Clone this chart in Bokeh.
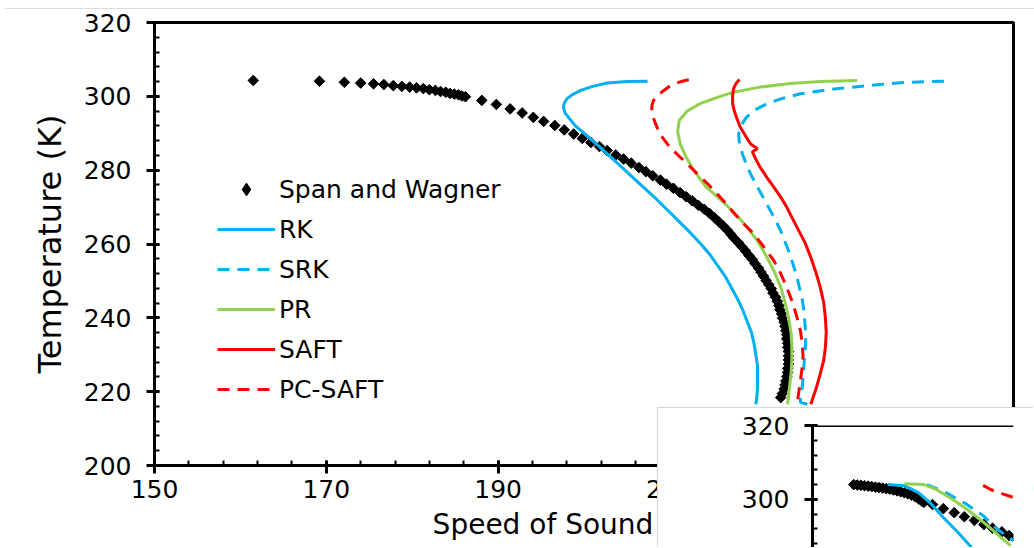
import math
from bokeh.plotting import figure
from bokeh.models import Range1d, FixedTicker, Legend, LegendItem, Span, Div
from bokeh.layouts import column
from bokeh.embed import file_html
from bokeh.resources import INLINE

FONT = "DejaVu Sans"

# ---------------- main chart data (Speed of sound m/s, Temperature K) ----------------
x_ticks = [150, 170, 190, 210, 230, 250]
y_ticks = [200, 220, 240, 260, 280, 300, 320]

sw_T = [304.3, 304.1, 303.8, 303.6, 303.4, 303.2, 302.9, 302.7, 302.5, 302.3, 302.1,
        301.8, 301.6, 301.3, 301.1, 300.8, 300.6, 300.4, 300.1, 299.9,
        298.9, 297.8, 296.6, 295.5, 294.3, 293.2, 292.1,
        290.9, 289.8, 288.6, 287.5, 286.4, 285.3, 284.1, 283.0, 281.9, 280.7,
        279.6, 278.5, 277.3, 276.2, 275.1, 273.9, 272.8, 271.7, 270.5, 269.4,
        268.3, 267.1, 266.0, 264.9, 263.7, 262.6, 261.5, 260.3, 259.2, 258.1,
        256.9, 255.8, 254.7, 253.5, 252.4, 251.3, 250.1, 249.0, 247.9, 246.7,
        245.6, 244.5, 243.3, 242.2, 241.1, 239.9, 238.8, 237.7, 236.5, 235.4,
        234.3, 233.1, 232.0, 230.9, 229.7, 228.6, 227.5, 226.3, 225.2, 224.1,
        222.9, 221.8, 220.7, 219.5, 218.4]
sw_c = [161.5, 169.2, 172.1, 174.0, 175.5, 176.7, 177.8, 178.8, 179.7, 180.5, 181.3,
        182.0, 182.7, 183.3, 183.9, 184.4, 184.9, 185.4, 185.8, 186.2,
        188.1, 189.8, 191.4, 192.8, 194.1, 195.3, 196.6,
        197.7, 198.8, 199.8, 200.8, 201.8, 202.7, 203.7, 204.6, 205.5, 206.4,
        207.2, 208.0, 208.9, 209.6, 210.4, 211.2, 211.9, 212.6, 213.3, 214.0,
        214.6, 215.2, 215.7, 216.2, 216.7, 217.1, 217.5, 218.0, 218.4, 218.8,
        219.2, 219.6, 219.9, 220.3, 220.6, 220.9, 221.2, 221.5, 221.8, 222.0,
        222.3, 222.5, 222.7, 222.8, 223.0, 223.1, 223.3, 223.4, 223.5, 223.6,
        223.6, 223.7, 223.7, 223.8, 223.8, 223.8, 223.8, 223.7, 223.7, 223.6,
        223.5, 223.4, 223.3, 223.1, 222.9]

rk_T = [304.1, 304.0, 303.6, 302.7, 301.6, 300.4, 299.3, 298.1, 297.0, 295.5, 294.0,
        292.0, 290.0, 287.0, 284.0, 281.0, 278.0, 275.0, 272.0, 269.0, 266.0, 263.0,
        260.0, 257.0, 254.0, 251.0, 248.0, 245.0, 242.0, 239.0, 236.0, 233.0, 230.0,
        227.0, 224.0, 221.0, 218.0, 216.6]
rk_c = [207.4, 205.0, 202.7, 201.0, 199.6, 198.6, 198.0, 197.7, 197.6, 197.8, 198.3,
        199.0, 200.0, 201.5, 202.9, 204.3, 205.7, 207.1, 208.5, 209.8, 211.1, 212.4,
        213.6, 214.7, 215.6, 216.5, 217.2, 217.9, 218.5, 219.0, 219.5, 219.8, 220.0,
        220.2, 220.2, 220.2, 220.1, 220.0]

srk_T = [304.1, 303.7, 302.9, 302.0, 300.7, 299.3, 298.0, 296.2, 294.3, 292.1, 289.8,
         287.0, 284.0, 281.0, 278.0, 275.0, 272.0, 269.0, 266.0, 263.0, 260.0, 257.0,
         254.0, 251.0, 248.0, 245.0, 242.0, 239.0, 236.0, 233.0, 230.0, 227.0, 224.0,
         221.0, 218.0, 217.1, 216.6]
srk_c = [241.9, 236.8, 233.0, 229.1, 225.2, 222.9, 221.3, 219.8, 218.9, 218.3, 218.0,
         218.1, 218.5, 219.0, 219.6, 220.3, 221.0, 221.7, 222.4, 223.0, 223.5, 224.0,
         224.4, 224.8, 225.1, 225.4, 225.6, 225.7, 225.8, 225.8, 225.7, 225.6, 225.5,
         225.4, 225.2, 225.2, 226.0]

pr_T = [304.3, 304.0, 303.5, 302.5, 301.2, 299.8, 298.0, 296.0, 293.5, 290.5, 287.1,
        283.5, 279.9, 275.5, 271.8, 268.0, 264.5, 260.5, 256.4, 252.3, 248.3, 244.2,
        240.1, 236.0, 232.0, 228.4, 224.8, 220.7, 216.6]
pr_c = [231.8, 227.5, 224.0, 220.5, 217.5, 215.6, 213.5, 212.0, 211.1, 210.9, 211.2,
        211.9, 212.8, 214.2, 216.0, 217.7, 219.0, 220.3, 221.3, 222.2, 222.9, 223.4,
        223.8, 224.1, 224.2, 224.2, 224.1, 223.9, 223.7]

saft_T = [304.6, 303.5, 302.0, 300.0, 298.0, 296.0, 294.0, 291.6, 289.3, 287.1, 285.8,
          285.0, 283.0, 280.8, 278.0, 275.4, 272.7, 270.0, 267.2, 264.5, 260.5, 256.4,
          252.3, 248.3, 244.2, 240.1, 236.0, 232.0, 228.4, 224.8, 220.7, 216.6]
saft_c = [218.1, 217.7, 217.4, 217.3, 217.3, 217.5, 217.8, 218.2, 218.8, 219.4, 220.2,
          219.6, 220.0, 220.5, 221.3, 222.1, 222.9, 223.6, 224.2, 224.8, 225.7, 226.4,
          227.0, 227.5, 227.9, 228.1, 228.2, 228.1, 227.9, 227.5, 227.0, 226.4]

pcsaft_T = [304.5, 304.0, 303.6, 302.8, 301.6, 300.3, 298.9, 297.5, 296.2, 294.0, 291.6,
            289.3, 287.1, 285.3, 283.5, 281.3, 279.0, 276.3, 273.6, 271.0, 268.0, 265.0,
            262.7, 259.0, 255.5, 252.0, 248.3, 244.0, 240.1, 236.5, 232.9, 229.7, 226.6,
            223.0, 219.8, 216.6]
pcsaft_c = [212.2, 211.3, 210.8, 210.0, 209.3, 208.6, 208.1, 207.9, 207.9, 208.1, 208.5,
            209.0, 209.7, 210.4, 211.2, 212.2, 213.2, 214.4, 215.5, 216.5, 217.6, 218.8,
            219.8, 221.0, 222.1, 222.9, 223.6, 224.3, 224.8, 225.2, 225.4, 225.5, 225.4,
            225.2, 225.0, 224.8]

# ---------------- inset chart data (partly visible) ----------------
in_y_ticks = [300, 320]
in_sw_T = [304.0, 303.9, 303.8, 303.7, 303.6, 303.45, 303.3, 303.2, 303.05, 302.9, 302.75,
           302.55, 302.3, 302.05, 301.8, 301.5, 301.15, 300.7, 300.1, 299.6, 299.2,
           298.6, 297.5, 296.4, 295.3, 294.3, 293.2, 292.2, 291.2, 290.2, 289.2]
in_sw_c = [155.7, 156.2, 156.7, 157.2, 157.7, 158.2, 158.7, 159.2, 159.7, 160.2, 160.7,
           161.2, 161.7, 162.2, 162.7, 163.2, 163.7, 164.2, 164.7, 165.1, 165.4,
           166.6, 168.1, 169.6, 171.0, 172.4, 173.7, 174.9, 176.2, 177.2, 178.4]
in_rk_T = [304.0, 303.7, 301.9, 299.2, 295.1, 291.1, 287.0]
in_rk_c = [160.4, 162.7, 164.6, 166.2, 168.1, 170.1, 172.0]
in_pr_T = [304.2, 304.0, 302.8, 300.1, 297.0, 293.4, 289.3, 287.5]
in_pr_c = [162.7, 165.4, 167.0, 169.3, 171.6, 173.9, 176.3, 177.4]
in_srk_T = [304.0, 302.2, 298.8, 295.6, 292.0, 288.8]
in_srk_c = [165.8, 168.1, 171.2, 173.6, 175.5, 177.8]
in_pcsaft_T = [303.8, 302.6, 301.5, 300.5]
in_pcsaft_c = [173.6, 174.7, 176.3, 177.8]

BLUE = "#00B0F0"
GREEN = "#92D050"
RED = "#FF0000"
DASH = "12 8"


def style_axis(ax):
    ax.axis_line_width = 3
    ax.axis_line_color = "black"
    ax.major_tick_line_width = 3
    ax.major_tick_line_color = "black"
    ax.major_tick_out = 8
    ax.major_tick_in = 5
    ax.minor_tick_line_width = 2
    ax.minor_tick_line_color = "black"
    ax.minor_tick_in = 5
    ax.minor_tick_out = 0
    ax.major_label_text_font = FONT
    ax.major_label_text_font_size = "25px"
    ax.major_label_text_color = "black"
    ax.axis_label_text_font = FONT
    ax.axis_label_text_font_style = "normal"
    ax.axis_label_text_color = "black"


p = figure(width=1034, height=548, x_range=Range1d(150, 250), y_range=Range1d(200, 320),
           output_backend="svg", toolbar_location=None,
           min_border_left=154, min_border_right=21, min_border_top=22, min_border_bottom=83)
p.xgrid.visible = False
p.ygrid.visible = False
p.outline_line_color = "black"
p.outline_line_width = 3
p.background_fill_color = "white"
p.border_fill_color = "white"

p.xaxis.ticker = FixedTicker(ticks=x_ticks, minor_ticks=list(range(150, 251, 4)))
p.yaxis.ticker = FixedTicker(ticks=y_ticks, minor_ticks=list(range(200, 321, 4)))
p.xaxis.axis_label = "Speed of Sound (m/s)"
p.yaxis.axis_label = "Temperature (K)"
for ax in p.xaxis + p.yaxis:
    style_axis(ax)
p.xaxis.axis_label_text_font_size = "28px"
p.yaxis.axis_label_text_font_size = "32px"
p.xaxis.major_label_standoff = 6
p.yaxis.major_label_standoff = 15
p.xaxis.axis_label_standoff = 7
p.yaxis.axis_label_standoff = 12

# key glyph for the legend, drawn underneath (and fully covered by) the rotated squares
r_sw_key = p.scatter(sw_c, sw_T, marker="diamond", size=9,
                     fill_color="black", line_color="black")
r_sw = p.scatter(sw_c, sw_T, marker="square", angle=math.pi / 4, size=7.5,
                 fill_color="black", line_color="black")
r_rk = p.line(rk_c, rk_T, line_color=BLUE, line_width=3)
r_srk = p.line(srk_c, srk_T, line_color=BLUE, line_width=3, line_dash=DASH)
r_pr = p.line(pr_c, pr_T, line_color=GREEN, line_width=3)
r_saft = p.line(saft_c, saft_T, line_color=RED, line_width=3)
r_pcsaft = p.line(pcsaft_c, pcsaft_T, line_color=RED, line_width=3, line_dash=DASH)

legend = Legend(items=[
    LegendItem(label="Span and Wagner", renderers=[r_sw_key]),
    LegendItem(label="RK", renderers=[r_rk]),
    LegendItem(label="SRK", renderers=[r_srk]),
    LegendItem(label="PR", renderers=[r_pr]),
    LegendItem(label="SAFT", renderers=[r_saft]),
    LegendItem(label="PC-SAFT", renderers=[r_pcsaft]),
], location=(63, 56), glyph_width=58, glyph_height=32, label_height=40, spacing=0,
    padding=0, margin=0, label_standoff=4, label_text_font=FONT,
    label_text_font_size="25px", label_text_color="black",
    background_fill_alpha=0, border_line_color=None)
p.add_layout(legend)

# ---------------- inset ----------------
q = figure(width=376, height=140, x_range=Range1d(150, 177.8), y_range=Range1d(286.7, 320),
           output_backend="svg", toolbar_location=None,
           min_border_left=137, min_border_right=0, min_border_top=17, min_border_bottom=0,
           styles={"position": "absolute", "left": "657px", "top": "407px",
                   "border-top": "1px solid #d6d6d6", "border-left": "1px solid #d6d6d6",
                   "background": "white"})
q.xgrid.visible = False
q.ygrid.visible = False
q.xaxis.visible = False
q.outline_line_color = None
q.background_fill_color = "white"
q.border_fill_color = "white"
q.yaxis.ticker = FixedTicker(ticks=in_y_ticks, minor_ticks=list(range(200, 321, 4)))
style_axis(q.yaxis[0])
q.yaxis.major_label_standoff = 15
q.add_layout(Span(location=320, dimension="width", line_color="black", line_width=3))
q.scatter(in_sw_c, in_sw_T, marker="square", angle=math.pi / 4, size=7.5,
          fill_color="black", line_color="black")
q.line(in_rk_c, in_rk_T, line_color=BLUE, line_width=3)
q.line(in_srk_c, in_srk_T, line_color=BLUE, line_width=3, line_dash=DASH)
q.line(in_pr_c, in_pr_T, line_color=GREEN, line_width=3)
q.line(in_pcsaft_c, in_pcsaft_T, line_color=RED, line_width=3, line_dash=DASH)

topline = Div(text="", width=1034, height=1,
              styles={"position": "absolute", "left": "0px", "top": "3px",
                      "background": "#dcdcdc"})

layout = column(p, q, topline, styles={"position": "relative"})

open("out.html", "w").write(file_html(layout, INLINE))
